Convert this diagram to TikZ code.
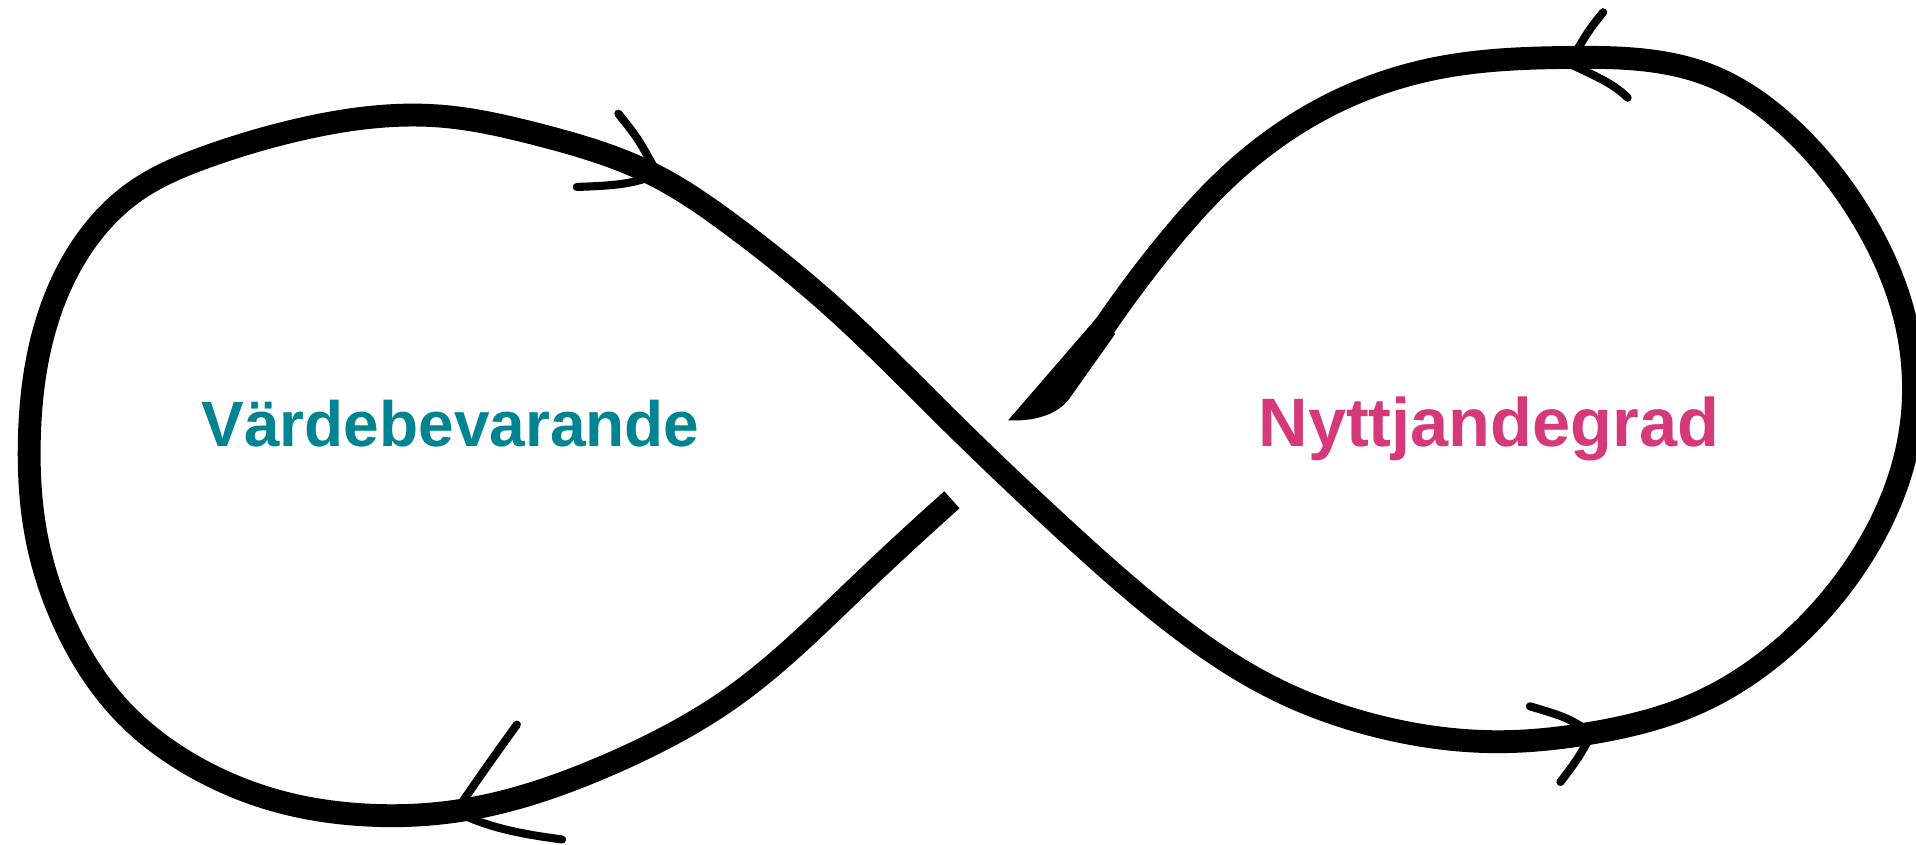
\documentclass[tikz,border=0pt]{standalone}
\usepackage{fontspec}
\setmainfont{Liberation Sans}[BoldFont={Liberation Sans Bold}]
\usetikzlibrary{hobby}
\definecolor{vardteal}{RGB}{0,132,145}
\definecolor{nyttpink}{RGB}{213,57,122}

% the whole loop, from the gap at the crossing round to the brush end
\newcommand{\infpath}{(779,409) .. (700,482) .. (600,570) .. (500,625)
  .. (372,664) .. (300,667) .. (225,655) .. (160,628) .. (100,582)
  .. (55,515) .. (30,440) .. (24,360) .. (35,275) .. (65,205) .. (110,157)
  .. (170,128) .. (245,106) .. (360,95) .. (440,110) .. (535,143)
  .. (600,185) .. (680,250) .. (777,344) .. (876,438) .. (960,510)
  .. (1040,562) .. (1130,595) .. (1228,607) .. (1302,600) .. (1390,575)
  .. (1465,525) .. (1527,450) .. (1563,355) .. (1560,265) .. (1525,180)
  .. (1465,105) .. (1400,62) .. (1284,47) .. (1180,55) .. (1090,85)
  .. (1010,140) .. (950,205) .. (902,270)}

\begin{document}
\begin{tikzpicture}[x=0.12219mm, y=-0.12219mm,
  brush/.style={black, line width=6.5pt, use Hobby shortcut},
  chev/.style={black, line width=2.3pt, line cap=round, line join=round},
  lbl/.style={font=\bfseries, inner sep=0pt, anchor=base}]
\useasboundingbox (0,0) rectangle (1568,691);

\draw[brush] \infpath;
% brush end
\fill[black] (902,270) circle (9.4);
\fill[black] (898,259.5) -- (825,344)
  .. controls (845,345) and (866,340) .. (876,325) -- (912.5,273.5) -- (908,264) -- cycle;

% arrowheads
\draw[chev] (506,93) .. controls (522,113) .. (538,142)
  .. controls (520,151) and (500,152) .. (472,153);
\draw[chev] (1312,10) .. controls (1300,25) .. (1284,52)
  .. controls (1305,62) and (1320,68) .. (1332,80);
\draw[chev] (423,593) .. controls (400,625) .. (373,664)
  .. controls (400,678) and (430,683) .. (460,687);
\draw[chev] (1252,578) .. controls (1282,587) .. (1303,600)
  .. controls (1292,620) .. (1277,640);

\node[lbl, text=vardteal, font=\bfseries\fontsize{18.2}{21}\selectfont] (vard) at (368.7,365) {Värdebevarande};
\node[lbl, text=nyttpink, font=\bfseries\fontsize{19.5}{22}\selectfont] (nytt) at (1218.5,365) {Nyttjandegrad};
\end{tikzpicture}
\end{document}
